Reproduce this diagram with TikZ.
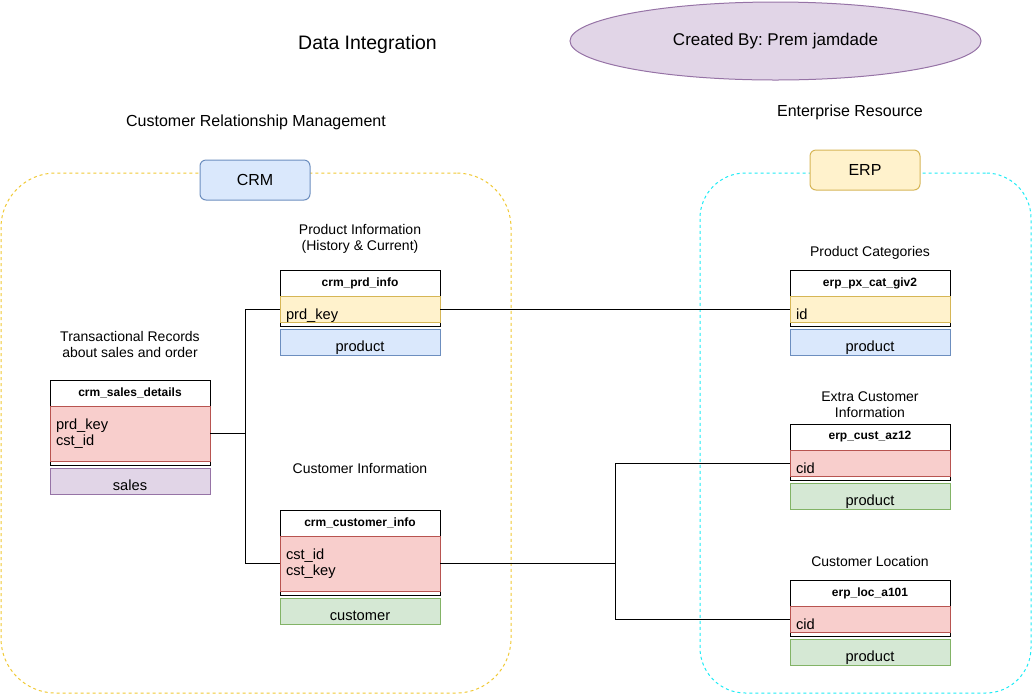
\documentclass[tikz,border=0pt]{standalone}
\usepackage{fontspec}
\setmainfont{Liberation Sans}
\usetikzlibrary{shapes.geometric}
\frenchspacing
\definecolor{redF}{HTML}{F8CECC}\definecolor{redS}{HTML}{B85450}
\definecolor{yelF}{HTML}{FFF2CC}\definecolor{yelS}{HTML}{D6B656}
\definecolor{bluF}{HTML}{DAE8FC}\definecolor{bluS}{HTML}{6C8EBF}
\definecolor{grnF}{HTML}{D5E8D4}\definecolor{grnS}{HTML}{82B366}
\definecolor{purF}{HTML}{E1D5E7}\definecolor{purS}{HTML}{9673A6}
\definecolor{crmDash}{RGB}{240,200,50}
\definecolor{erpDash}{RGB}{30,235,245}
\newcommand\setfs[2]{\fontsize{#1}{#2}\selectfont}
% #1 name, #2 x, #3 top y, #4 title, #5 row height (px), #6 row options, #7 row text, #8 bottom options, #9 bottom text
\newcommand\dbtable[9]{%
  \node[tout, minimum height={(#5+30)*0.75pt}] (#1) at (#2,#3) {};
  \node[ttitle, minimum height=19.5pt] (#1-h) at (#2,#3) {#4};
  \node[trow, #6, minimum height={#5*0.75pt}] (#1-r) at (#2,#3+26) {#7};
  \node[tbot, #8] (#1-b) at (#2,#3+#5+33) {#9};
}
\begin{document}
\begin{tikzpicture}[x=0.75pt,y=-0.75pt,line width=0.75pt,
  every node/.style={inner sep=0pt,outer sep=0pt},
  lbl/.style={font=\setfs{10.5pt}{12pt},align=center},
  biglbl/.style={font=\setfs{12pt}{14pt}},
  container/.style={draw,dash pattern=on 2.25pt off 2.25pt,line width=0.75pt},
  tagbox/.style={draw,rounded corners=4.5pt,minimum width=82.5pt,minimum height=30pt,font=\setfs{12pt}{14pt}},
  tout/.style={draw=black,fill=white,anchor=north west,minimum width=120pt},
  ttitle/.style={anchor=north west,minimum width=120pt,font=\setfs{9pt}{11pt}\bfseries},
  trow/.style={anchor=north west,text width=111pt,inner xsep=4.5pt,align=left,font=\setfs{11pt}{12pt}},
  onerow/.style={text height=15pt,text depth=0pt},
  tbot/.style={anchor=north west,minimum width=120pt,minimum height=19.5pt,text height=13.5pt,text depth=0pt,font=\setfs{11pt}{13pt}},
  redrow/.style={fill=redF,draw=redS},
  yelrow/.style={fill=yelF,draw=yelS},
  blubot/.style={fill=bluF,draw=bluS},
  grnbot/.style={fill=grnF,draw=grnS},
  purbot/.style={fill=purF,draw=purS},
  conn/.style={draw=black,line width=0.75pt}]
\useasboundingbox (0,0) rectangle (1032,694);

% containers
\node[container,draw=crmDash,rounded corners=41pt,minimum width=382.5pt,minimum height=390pt] (crmarea) at (256,433) {};
\node[container,draw=erpDash,rounded corners=34pt,minimum width=248.25pt,minimum height=390pt] (erparea) at (865.5,433) {};

% tags
\node[tagbox,fill=bluF,draw=bluS] (crmtag) at (255,180) {CRM};
\node[tagbox,fill=yelF,draw=yelS] (erptag) at (865,170) {ERP};

% headings
\node[font=\setfs{14.6pt}{17pt},anchor=base] (title) at (367.5,49.3) {Data Integration};
\node[ellipse,draw=purS,fill=purF,minimum width=308.25pt,minimum height=58.5pt,font=\setfs{12.75pt}{15pt}] (author) at (775.5,41) {Created By: Prem jamdade};
\node[biglbl,anchor=base] (crmname) at (256,126.5) {Customer Relationship Management};
\node[biglbl,anchor=base] (erpname) at (850,116.5) {Enterprise Resource};

% labels
\node[lbl] (prdlbl) at (360,238.5) {Product Information\\(History \& Current)};
\node[lbl] (saleslbl) at (130,344) {Transactional Records\\about sales and order};
\node[lbl,anchor=base] (custlbl) at (360,473) {Customer Information};
\node[lbl,anchor=base] (catlbl) at (870,256) {Product Categories};
\node[lbl] (extralbl) at (870,405) {Extra Customer\\Information};
\node[lbl,anchor=base] (loclbl) at (870,566) {Customer Location};

% tables
\dbtable{sales}{50}{380}{crm\_sales\_details}{55}{redrow}{prd\_key\\cst\_id}{purbot}{sales}
\dbtable{prd}{280}{270}{crm\_prd\_info}{26}{yelrow,onerow}{prd\_key}{blubot}{product}
\dbtable{cust}{280}{510}{crm\_customer\_info}{55}{redrow}{cst\_id\\cst\_key}{grnbot}{customer}
\dbtable{pxcat}{790}{270}{erp\_px\_cat\_giv2}{26}{yelrow,onerow}{id}{blubot}{product}
\dbtable{az}{790}{424}{erp\_cust\_az12}{26}{redrow,onerow}{cid}{grnbot}{product}
\dbtable{loc}{790}{580}{erp\_loc\_a101}{26}{redrow,onerow}{cid}{grnbot}{product}

% connectors
\coordinate (j1) at (245,433.5);
\coordinate (j2) at (615,563.5);
\draw[conn] (sales-r.east) -- (j1);
\draw[conn] (j1) |- (prd-r.west);
\draw[conn] (j1) |- (cust-r.west);
\draw[conn] (prd-r.east) -- (pxcat-r.west);
\draw[conn] (cust-r.east) -- (j2);
\draw[conn] (j2) |- (az-r.west);
\draw[conn] (j2) |- (loc-r.west);
\end{tikzpicture}
\end{document}
